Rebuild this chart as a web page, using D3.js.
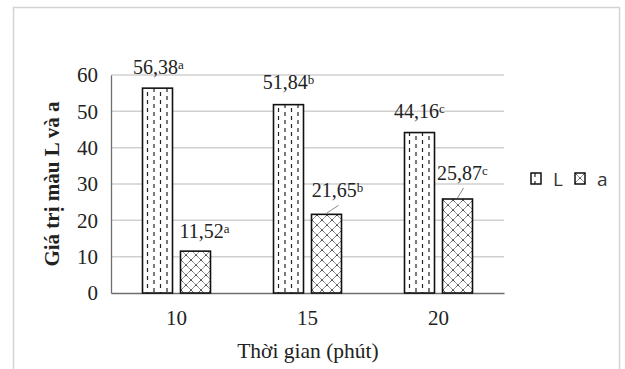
<!DOCTYPE html>
<html>
<head>
<meta charset="utf-8">
<script src="https://cdn.jsdelivr.net/npm/d3@7"></script>
<style>
  html, body { margin: 0; padding: 0; background: #fff; }
  svg { display: block; }
</style>
</head>
<body>
<script>
// Chart data
const categories = ["10", "15", "20"];
const seriesNames = ["L", "a"];
const valuesL = [56.38, 51.84, 44.16];
const valuesA = [11.52, 21.65, 25.87];
const lettersL = ["a", "b", "c"];
const lettersA = ["a", "b", "c"];
const yTicks = [0, 10, 20, 30, 40, 50, 60];

// Label nudges (dx, dy from bar top centre) and leader-line flags
const labelNudgeL = [[1, -14], [0, -16], [0, -15]];
const labelNudgeA = [[9, -13], [11, -17], [5, -19]];
const leaderA = [false, true, true];

const W = 625, H = 369;
const serif = "Liberation Serif, Times New Roman, serif";
const svg = d3.select("body").append("svg").attr("width", W).attr("height", H);

const defs = svg.append("defs");
// dashed vertical pattern
const pL = defs.append("pattern").attr("id", "patL").attr("patternUnits", "userSpaceOnUse")
  .attr("width", 13).attr("height", 8).attr("x", 146).attr("y", 0);
pL.append("rect").attr("width", 13).attr("height", 8).attr("fill", "#fff");
pL.append("line").attr("x1", 1).attr("x2", 1).attr("y1", 0).attr("y2", 4)
  .attr("stroke", "#222").attr("stroke-width", 1.2);
pL.append("line").attr("x1", 7.5).attr("x2", 7.5).attr("y1", 4).attr("y2", 8)
  .attr("stroke", "#222").attr("stroke-width", 1.2);
// crosshatch pattern
const pA = defs.append("pattern").attr("id", "patA").attr("patternUnits", "userSpaceOnUse")
  .attr("width", 10).attr("height", 10);
pA.append("rect").attr("width", 10).attr("height", 10).attr("fill", "#fff");
pA.append("path").attr("d", "M0,0L10,10M10,0L0,10M-1,9L1,11M9,-1L11,1")
  .attr("stroke", "#333").attr("stroke-width", 1).attr("stroke-dasharray", "1.2,0.6");

// outer frame
svg.append("rect").attr("x", 13.5).attr("y", 7.5).attr("width", 606).attr("height", 375)
  .attr("fill", "none").attr("stroke", "#d4d4d4").attr("stroke-width", 1.5);

const x0 = d3.scaleBand().domain(categories).range([111, 504]).paddingInner(0).paddingOuter(0);
const x1 = d3.scaleBand().domain(seriesNames).range([0, x0.bandwidth()])
  .paddingInner(8 / 38).paddingOuter(0.829);
const y = d3.scaleLinear().domain([0, 60]).range([293, 75]);

// gridlines
svg.append("g").selectAll("line").data(yTicks.filter(d => d > 0)).join("line")
  .attr("x1", 111).attr("x2", 504)
  .attr("y1", d => y(d)).attr("y2", d => y(d))
  .attr("stroke", "#d0d0d0").attr("stroke-width", 1.5);

// y axis
const yAxis = svg.append("g").attr("transform", "translate(111,0)")
  .call(d3.axisLeft(y).tickValues(yTicks).tickSize(0).tickPadding(13));
yAxis.select(".domain").attr("stroke", "#6e6e6e").attr("stroke-width", 1.3);
yAxis.selectAll("text").attr("font-family", serif)
  .attr("font-size", 21).attr("fill", "#222");

// x axis
const xAxis = svg.append("g").attr("transform", "translate(0,293)")
  .call(d3.axisBottom(x0).tickSize(0).tickPadding(17));
xAxis.select(".domain").attr("stroke", "#6e6e6e").attr("stroke-width", 1.3);
xAxis.selectAll("text").attr("font-family", serif)
  .attr("font-size", 21).attr("fill", "#222");

// bars
const rows = categories.map((c, i) => ({
  cat: c,
  items: [
    { s: "L", v: valuesL[i], letter: lettersL[i], nudge: labelNudgeL[i], leader: false },
    { s: "a", v: valuesA[i], letter: lettersA[i], nudge: labelNudgeA[i], leader: leaderA[i] }
  ]
}));

const groups = svg.append("g").selectAll("g").data(rows).join("g")
  .attr("transform", d => `translate(${x0(d.cat)},0)`);

groups.selectAll("rect").data(d => d.items).join("rect")
  .attr("x", d => x1(d.s)).attr("width", x1.bandwidth())
  .attr("y", d => y(d.v)).attr("height", d => y(0) - y(d.v))
  .attr("fill", d => d.s === "L" ? "url(#patL)" : "url(#patA)")
  .attr("stroke", "#111").attr("stroke-width", 1.6);

// leader lines
groups.selectAll("line.leader").data(d => d.items.filter(it => it.leader)).join("line")
  .attr("class", "leader")
  .attr("x1", d => x1(d.s) + x1.bandwidth() / 2)
  .attr("y1", d => y(d.v) - 1)
  .attr("x2", d => x1(d.s) + x1.bandwidth() / 2 + d.nudge[0] + 1)
  .attr("y2", d => y(d.v) + d.nudge[1] + 8)
  .attr("stroke", "#8a8a8a").attr("stroke-width", 1);

// value labels
const lbl = groups.selectAll("text.val").data(d => d.items).join("text")
  .attr("class", "val")
  .attr("x", d => x1(d.s) + x1.bandwidth() / 2 + d.nudge[0])
  .attr("y", d => y(d.v) + d.nudge[1])
  .attr("text-anchor", "middle")
  .attr("font-family", serif)
  .attr("font-size", 20).attr("fill", "#222");
lbl.append("tspan").text(d => d.v.toFixed(2).replace(".", ","));
lbl.append("tspan").attr("font-size", 13).attr("dy", -5).text(d => d.letter);

// axis titles
svg.append("text").attr("x", 308).attr("y", 358).attr("text-anchor", "middle")
  .attr("font-family", serif)
  .attr("font-size", 21.5).attr("fill", "#222").text("Thời gian (phút)");
svg.append("text").attr("transform", "translate(59,184) rotate(-90)")
  .attr("text-anchor", "middle")
  .attr("font-family", serif)
  .attr("font-weight", "bold")
  .attr("font-size", 21).attr("fill", "#222").text("Giá trị màu L và a");

// legend
const legendX = [531, 575];
const legend = svg.append("g").selectAll("g").data(seriesNames).join("g")
  .attr("transform", (d, i) => `translate(${legendX[i]},173)`);
legend.append("rect").attr("width", 10).attr("height", 11)
  .attr("fill", d => d === "L" ? "url(#patL)" : "url(#patA)")
  .attr("stroke", "#111").attr("stroke-width", 1.5);
legend.append("text").attr("x", 22).attr("y", 12.5)
  .attr("font-family", "Open Sans, DejaVu Sans, sans-serif")
  .attr("font-size", 19).attr("fill", "#333").text(d => d);
</script>
</body>
</html>
